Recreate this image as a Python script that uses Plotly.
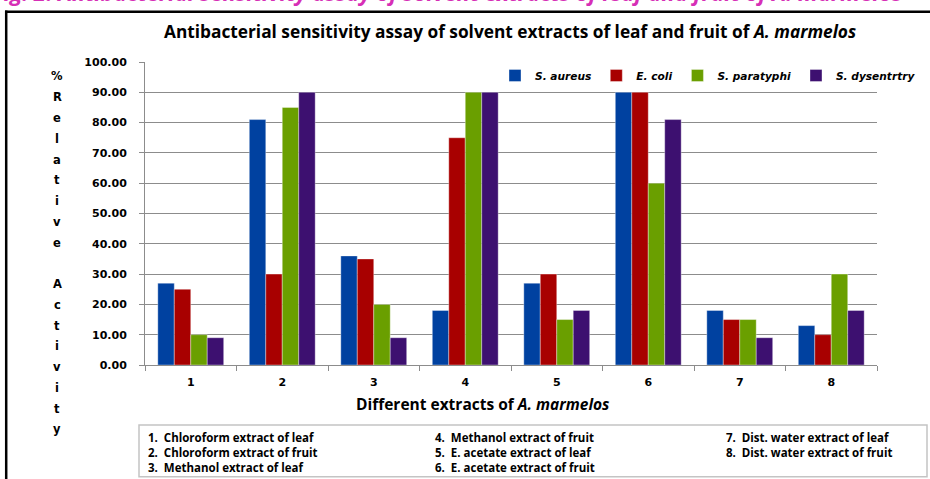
import plotly.graph_objects as go

# ---------------- data ----------------
categories = ["1", "2", "3", "4", "5", "6", "7", "8"]
series_names = ["S. aureus", "E. coli", "S. paratyphi", "S. dysentrtry"]
s_aureus = [27, 81, 36, 18, 27, 90, 18, 13]
e_coli = [25, 30, 35, 75, 30, 90, 15, 10]
s_paratyphi = [10, 85, 20, 90, 15, 60, 15, 30]
s_dysentrtry = [9, 90, 9, 90, 18, 81, 9, 18]
y_ticks = [0, 10, 20, 30, 40, 50, 60, 70, 80, 90, 100]
extract_labels = [
    "1.  Chloroform extract of leaf",
    "2.  Chloroform extract of fruit",
    "3.  Methanol extract of leaf",
    "4.  Methanol extract of fruit",
    "5.  E. acetate extract of leaf",
    "6.  E. acetate extract of fruit",
    "7.  Dist. water extract of leaf",
    "8.  Dist. water extract of fruit",
]
y_title_letters = list("%Relative") + [""] + list("Activity")
title_text = "Antibacterial sensitivity assay of solvent extracts of leaf and fruit of <i>A. marmelos</i>"
x_title_text = "Different extracts of <i>A. marmelos</i>"
top_caption = "Fig. 2: Antibacterial sensitivity assay of solvent extracts of leaf and fruit of A. marmelos"

colors = ["#0041A0", "#A80000", "#6A9F00", "#3D1070"]

# ---------------- layout geometry ----------------
W, H = 930, 479
L, R, T, B = 145, 877, 61.5, 365
PW, PH = R - L, B - T


def px_x(x):
    return (x - L) / PW


def px_y(y):
    return (B - y) / PH


fig = go.Figure()
for name, vals, col in zip(series_names, [s_aureus, e_coli, s_paratyphi, s_dysentrtry], colors):
    fig.add_trace(go.Bar(
        x=categories, y=vals, name=f"<i>{name}</i>",
        marker=dict(color=col, line=dict(color="rgba(255,255,255,0.6)", width=0.6)),
    ))

annotations = []
# Title
annotations.append(dict(
    text=f"<b>{title_text}</b>", x=px_x(510), y=px_y(31), xref="paper", yref="paper",
    showarrow=False, xanchor="center", yanchor="middle",
    font=dict(family="Open Sans", size=17.3, color="#000000"),
))
# x-axis title (centred slightly left of the plot centre, as in the original)
annotations.append(dict(
    text=f"<b>{x_title_text}</b>", x=px_x(483), y=px_y(404), xref="paper", yref="paper",
    showarrow=False, xanchor="center", yanchor="middle",
    font=dict(family="Open Sans", size=15.5, color="#000000"),
))
# cut-off caption at very top
annotations.append(dict(
    text=f"<b><i>{top_caption}</i></b>", x=px_x(-10), y=px_y(8), xref="paper", yref="paper",
    showarrow=False, xanchor="left", yanchor="bottom",
    font=dict(family="Open Sans", size=22, color="#D62FB6"),
))
# Y title stacked letters
for i, ch in enumerate(y_title_letters):
    if not ch:
        continue
    annotations.append(dict(
        text=f"<b>{ch}</b>", x=px_x(57), y=px_y(76 + i * 20.8), xref="paper", yref="paper",
        showarrow=False, xanchor="center", yanchor="middle",
        font=dict(family="DejaVu Sans", size=11.5, color="#000000"),
    ))
# bottom key box text: one block per column
col_x = [146, 433, 724]
for c in range(3):
    lines = extract_labels[c * 3:(c + 1) * 3]
    annotations.append(dict(
        text="<br>".join(f"<b>{s}</b>" for s in lines),
        x=px_x(col_x[c]), y=px_y(428), xref="paper", yref="paper",
        showarrow=False, xanchor="left", yanchor="top", align="left",
        font=dict(family="Open Sans", size=11.5, color="#000000"),
    ))

shapes = [
    # key box
    dict(type="rect", xref="paper", yref="paper",
         x0=px_x(139), x1=px_x(927), y0=px_y(425), y1=px_y(477),
         line=dict(color="#C4C4C4", width=1.5), fillcolor="rgba(0,0,0,0)"),
    # outer black frame (top and left)
    dict(type="line", xref="paper", yref="paper",
         x0=px_x(5), x1=px_x(935), y0=px_y(11.2), y1=px_y(11.2),
         line=dict(color="#000000", width=2.5)),
    dict(type="line", xref="paper", yref="paper",
         x0=px_x(6.2), x1=px_x(6.2), y0=px_y(10), y1=px_y(485),
         line=dict(color="#000000", width=2.5)),
]

fig.update_layout(
    width=W, height=H,
    margin=dict(l=L, r=W - R, t=T, b=H - B, autoexpand=False),
    paper_bgcolor="white", plot_bgcolor="white",
    barmode="group", bargap=0.28, bargroupgap=0,
    showlegend=True,
    legend=dict(
        orientation="h", x=px_x(495), y=px_y(75), xanchor="left", yanchor="middle",
        font=dict(family="DejaVu Sans", size=10.6, color="#000000", weight="bold"),
        bgcolor="rgba(0,0,0,0)", itemwidth=30, tracegroupgap=0,
    ),
    xaxis=dict(
        type="category", categoryorder="array", categoryarray=categories,
        showline=True, linecolor="#8C8C8C", linewidth=1,
        ticks="outside", tickson="boundaries", ticklen=5, tickcolor="#8C8C8C",
        ticklabelstandoff=7,
        tickfont=dict(family="DejaVu Sans", size=11, color="#000000", weight="bold"),
        showgrid=False, zeroline=False,
        automargin=False,
    ),
    yaxis=dict(
        range=[0, 100], tickvals=y_ticks, tickformat=".2f",
        showline=True, linecolor="#8C8C8C", linewidth=1,
        ticks="outside", ticklen=5, tickcolor="#8C8C8C",
        ticklabelstandoff=10,
        tickfont=dict(family="DejaVu Sans", size=11, color="#000000", weight="bold"),
        showgrid=True, gridcolor="#8C8C8C", gridwidth=1,
        zeroline=False, automargin=False,
    ),
    annotations=annotations,
    shapes=shapes,
)

fig.write_html(
    "out.html",
    config={"displayModeBar": False},
    post_script="document.body.style.margin='0';document.body.style.overflow='hidden';",
)
